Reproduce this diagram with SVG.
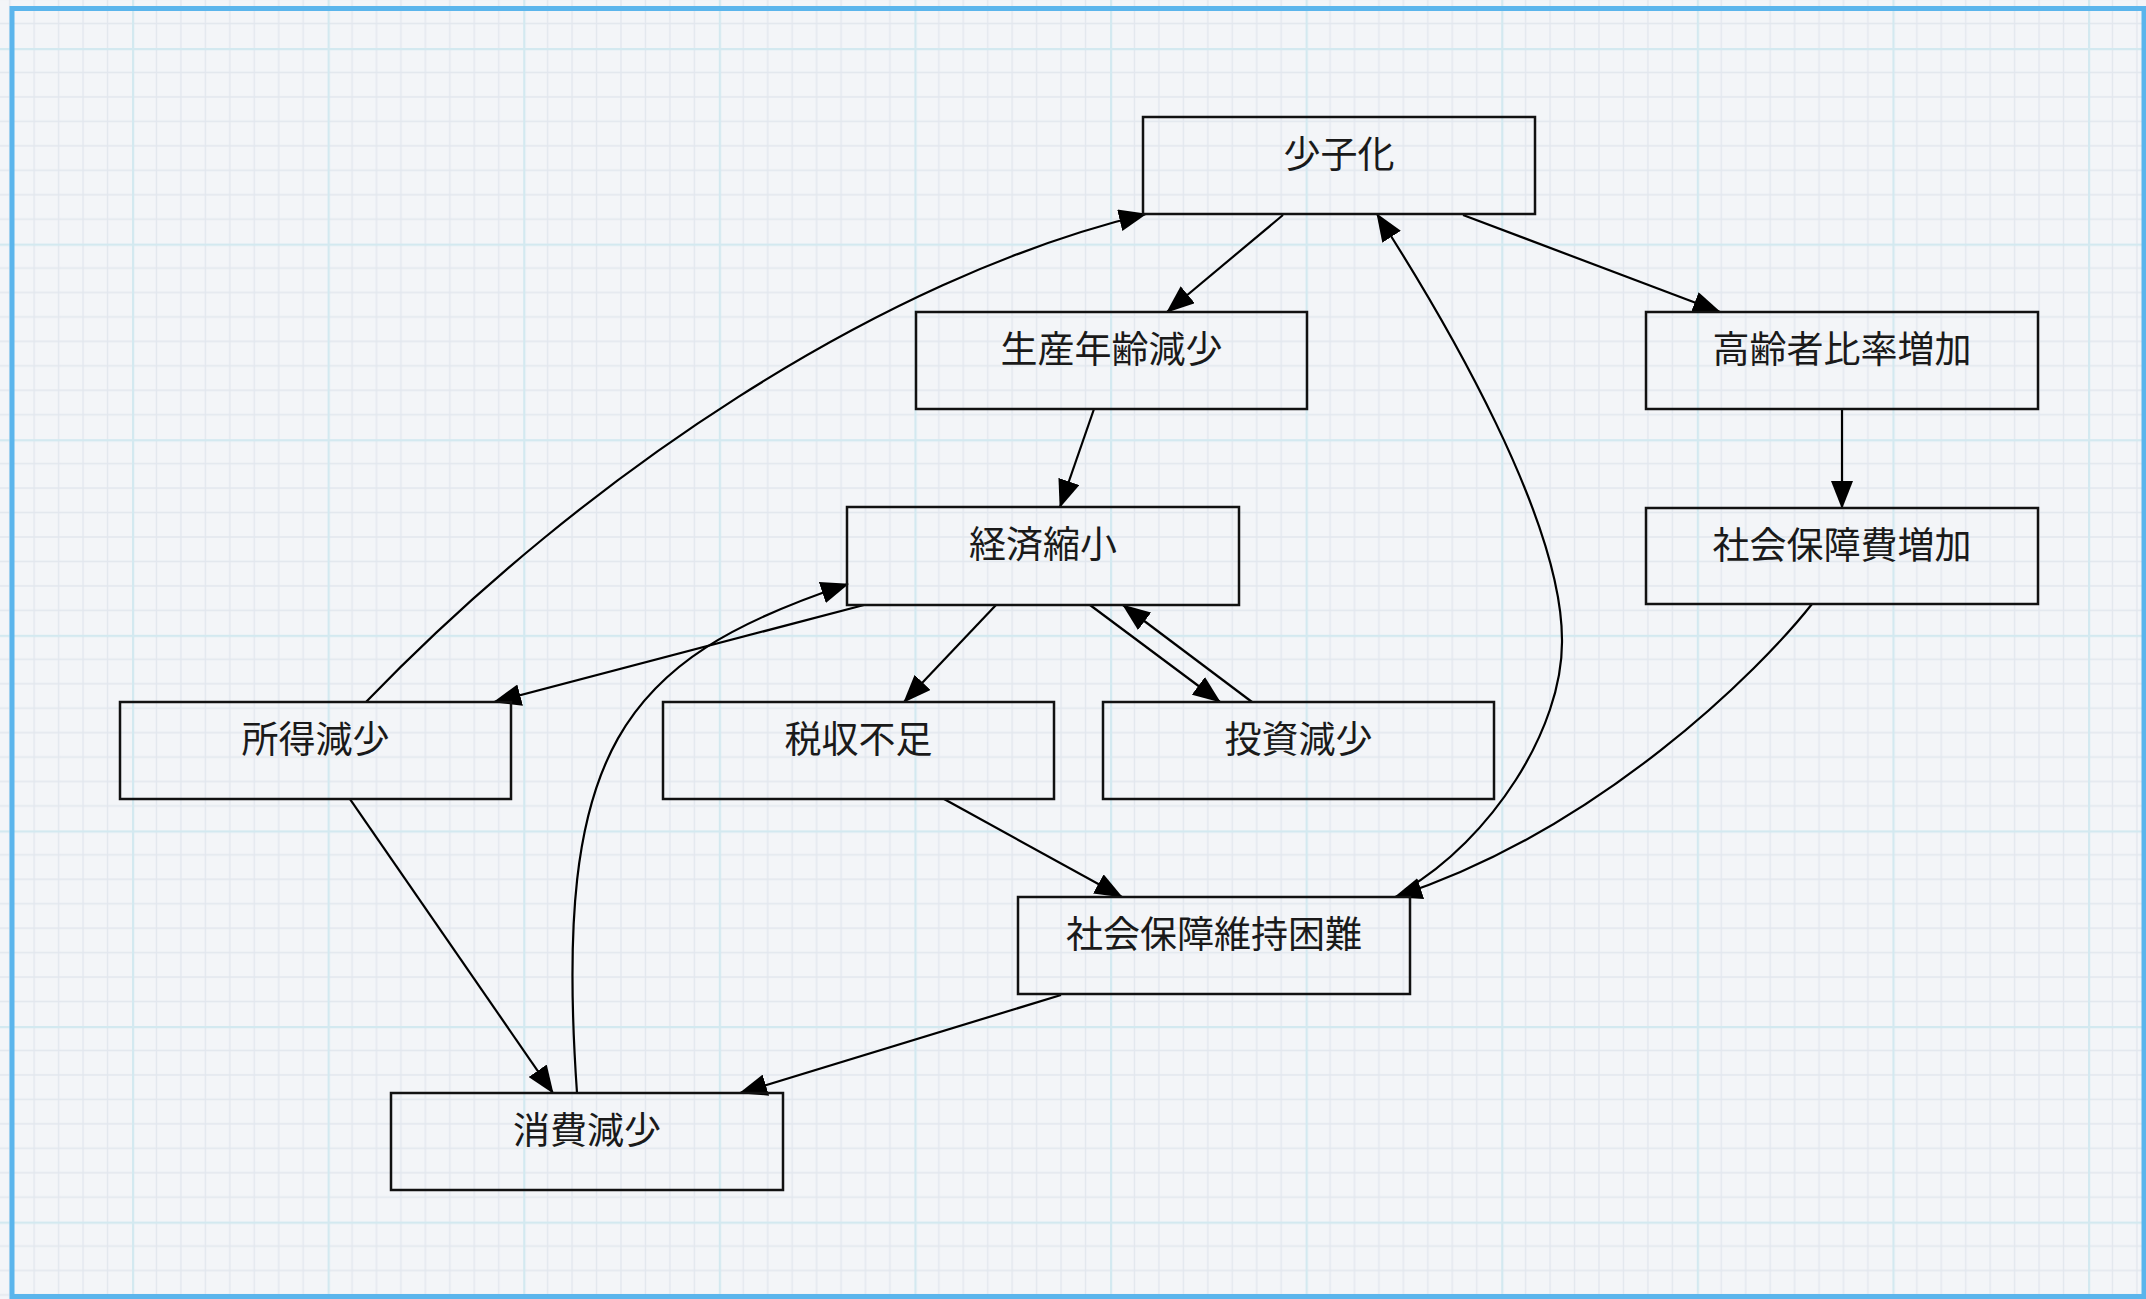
<svg xmlns="http://www.w3.org/2000/svg" width="2146" height="1299" viewBox="0 0 2146 1299">
<style>
.node rect{fill:none;stroke:#111;stroke-width:2.5}
.node text{font-family:"Noto Sans CJK JP","Noto Sans CJK SC",sans-serif;font-size:37px;fill:#1a1a1a;text-anchor:middle;dominant-baseline:central}
#edges path{fill:none;stroke:#000;stroke-width:2.2;marker-end:url(#arr)}
</style>
<defs>
<marker id="arr" markerUnits="userSpaceOnUse" markerWidth="28" markerHeight="22" refX="27" refY="11" orient="auto" viewBox="0 0 28 22">
<path d="M0,0 L28,11 L0,22 z" fill="#000"/>
</marker>
<pattern id="grid" patternUnits="userSpaceOnUse" x="132" y="48" width="195.6" height="195.6">
<rect width="195.6" height="195.6" fill="#f3f5f8"/>
<g stroke="#e2e7ee" stroke-width="1.3">
<path d="M24.45,0V195.6M48.9,0V195.6M73.35,0V195.6M97.8,0V195.6M122.25,0V195.6M146.7,0V195.6M171.15,0V195.6"/>
<path d="M0,24.45H195.6M0,48.9H195.6M0,73.35H195.6M0,97.8H195.6M0,122.25H195.6M0,146.7H195.6M0,171.15H195.6"/>
</g>
<g stroke="#d3e9f0" stroke-width="2.4">
<path d="M1,0V195.6M0,1H195.6"/>
</g>
</pattern>
</defs>
<rect x="0" y="0" width="2146" height="1299" fill="url(#grid)"/>
<rect x="12" y="8.5" width="2132" height="1288" fill="none" stroke="#5bb5ec" stroke-width="5"/>

<g id="edges">
<path d="M1283,215 L1167,312"/>
<path d="M1463,215 L1720,312"/>
<path d="M1094,409 L1060,507"/>
<path d="M1842,409 L1842,508"/>
<path d="M996,605 L904,702"/>
<path d="M1090,605 L1220,702"/>
<path d="M1252,702 L1123,605"/>
<path d="M864,605 L494,702"/>
<path d="M366,702 C585,475 880,278 1146,214"/>
<path d="M350,799 L553,1093"/>
<path d="M577,1093 C553,750 620,660 848,584"/>
<path d="M944,799 L1122,897"/>
<path d="M1812,604 C1760,670 1600,830 1395,897"/>
<path d="M1405,890 C1490,840 1563,730 1562,640 C1562,520 1447,323 1377,214"/>
<path d="M1061,995 L740,1093"/>
</g>

<g id="n_shoshika" class="node"><rect x="1143" y="117" width="392" height="97"/><text x="1339" y="152">少子化</text></g>
<g id="n_seisan" class="node"><rect x="916" y="312" width="391" height="97"/><text x="1111.5" y="347">生産年齢減少</text></g>
<g id="n_koreisha" class="node"><rect x="1646" y="312" width="392" height="97"/><text x="1842" y="347">高齢者比率増加</text></g>
<g id="n_keizai" class="node"><rect x="847" y="507" width="392" height="98"/><text x="1043" y="542">経済縮小</text></g>
<g id="n_shahohi" class="node"><rect x="1646" y="508" width="392" height="96"/><text x="1842" y="543">社会保障費増加</text></g>
<g id="n_shotoku" class="node"><rect x="120" y="702" width="391" height="97"/><text x="315.5" y="737">所得減少</text></g>
<g id="n_zeishu" class="node"><rect x="663" y="702" width="391" height="97"/><text x="858.5" y="737">税収不足</text></g>
<g id="n_toshi" class="node"><rect x="1103" y="702" width="391" height="97"/><text x="1298.5" y="737">投資減少</text></g>
<g id="n_shaho" class="node"><rect x="1018" y="897" width="392" height="97"/><text x="1214" y="932">社会保障維持困難</text></g>
<g id="n_shohi" class="node"><rect x="391" y="1093" width="392" height="97"/><text x="587" y="1128">消費減少</text></g>
</svg>
